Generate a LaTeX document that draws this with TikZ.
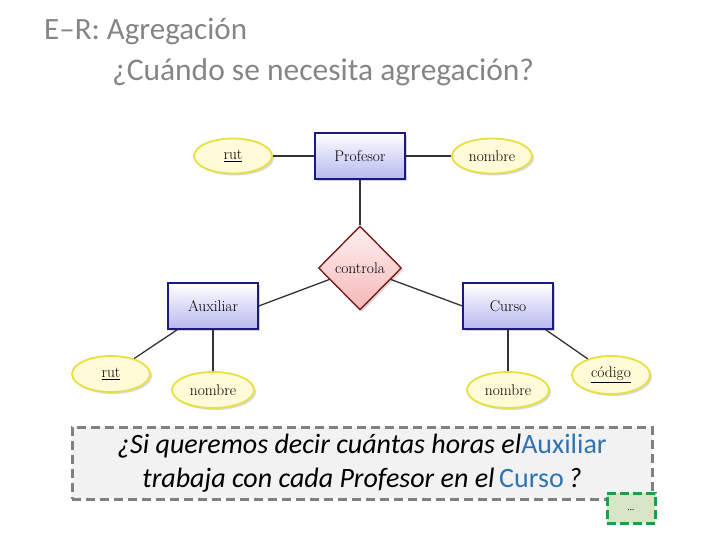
\documentclass[tikz,border=0pt]{standalone}
\usepackage{fontspec}
\newfontfamily\calib{Carlito}
\usetikzlibrary{shapes.geometric,shadows}
\definecolor{titlegray}{HTML}{858585}
\definecolor{entborder}{HTML}{1A1A80}
\definecolor{entfill}{HTML}{B8B8F0}
\definecolor{relborder}{HTML}{7A1A1A}
\definecolor{relfill}{HTML}{F4B8B8}
\definecolor{attborder}{HTML}{E6E040}
\definecolor{attfill}{HTML}{FFFBD8}
\definecolor{qblue}{HTML}{2E74B5}
\definecolor{boxgray}{HTML}{808080}
\definecolor{boxfill}{HTML}{F2F2F2}
\definecolor{grnborder}{HTML}{1E9E4A}
\definecolor{grnfill}{HTML}{D6E6C4}
\tikzset{
  entity/.style={draw=entborder, line width=1.4pt, top color=white, bottom color=entfill,
    minimum width=90pt, minimum height=46pt, inner sep=0pt, font=\fontsize{15.5}{18}\selectfont,
    drop shadow={shadow xshift=2pt, shadow yshift=-2pt, opacity=0.35}},
  relation/.style={diamond, draw=relborder, line width=1.4pt, top color=red!6, bottom color=relfill,
    minimum width=83pt, minimum height=84pt, inner sep=0pt, font=\fontsize{15.5}{18}\selectfont,
    drop shadow={shadow xshift=2pt, shadow yshift=-2pt, opacity=0.3}},
  attrib/.style={ellipse, draw=attborder, line width=1.8pt, fill=attfill,
    minimum width=78pt, minimum height=35pt, inner sep=0pt, font=\fontsize{15.5}{18}\selectfont,
    drop shadow={shadow xshift=2pt, shadow yshift=-2pt, opacity=0.3}},
  conn/.style={draw=black!80, line width=1.3pt},
}
\begin{document}
\begin{tikzpicture}[x=1pt,y=-1pt]
\useasboundingbox (0,0) rectangle (720,540);
% title
\node[anchor=west, text=titlegray, font=\calib\fontsize{31}{34}\selectfont, inner sep=0pt] (t1) at (44,32) {E–R: Agregación};
\node[anchor=west, text=titlegray, font=\calib\fontsize{31.5}{34}\selectfont, inner sep=0pt] (t2) at (112,72) {¿Cuándo se necesita agregación?};
% nodes
\node[entity] (prof) at (360,156) {Profesor};
\node[entity] (aux) at (213,306) {Auxiliar};
\node[entity] (cur) at (508,306) {Curso};
\node[relation] (ctrl) at (360,268) {controla};
\node[attrib] (rut1) at (233,156) {\underline{rut}};
\node[attrib, minimum width=80pt] (nom1) at (492,156) {nombre};
\node[attrib, minimum height=36pt] (rut2) at (111,374) {\underline{rut}};
\node[attrib, minimum width=82pt, minimum height=36pt] (nom2) at (213,390) {nombre};
\node[attrib, minimum width=82pt, minimum height=36pt] (nom3) at (508,390) {nombre};
\node[attrib, minimum height=38pt] (cod) at (611,375) {\underline{código}};
% connectors
\draw[conn] (rut1) -- (prof);
\draw[conn] (prof) -- (nom1);
\draw[conn] (prof) -- (ctrl);
\draw[conn] (ctrl) -- (aux.east);
\draw[conn] (ctrl) -- (cur.west);
\draw[conn] (aux.south west) ++(10,0) coordinate (a1) -- (rut2);
\draw[conn] (aux) -- (nom2);
\draw[conn] (cur) -- (nom3);
\draw[conn] (cur.south east) ++(-8,0) coordinate (c1) -- (cod);
% question box
\node[draw=boxgray, dash pattern=on 9pt off 5pt, line width=3pt, fill=boxfill,
      minimum width=580pt, minimum height=72pt, inner sep=0pt] (qbox) at (362,463) {};
\node[font=\calib\itshape\fontsize{28}{34}\selectfont, align=center, inner sep=0pt] (qtext) at (362,463)
  {¿Si queremos decir cuántas horas el\textcolor{qblue}{\upshape Auxiliar}\\
   trabaja con cada Profesor en el\,\textcolor{qblue}{\upshape Curso}\,?};
\node[draw=grnborder, dash pattern=on 9pt off 4pt, line width=3pt, fill=grnfill,
      minimum width=48pt, minimum height=30pt, inner sep=0pt, font=\calib\fontsize{9}{10}\selectfont] (more) at (631,508) {\raisebox{-6pt}{...}};
\end{tikzpicture}
\end{document}
